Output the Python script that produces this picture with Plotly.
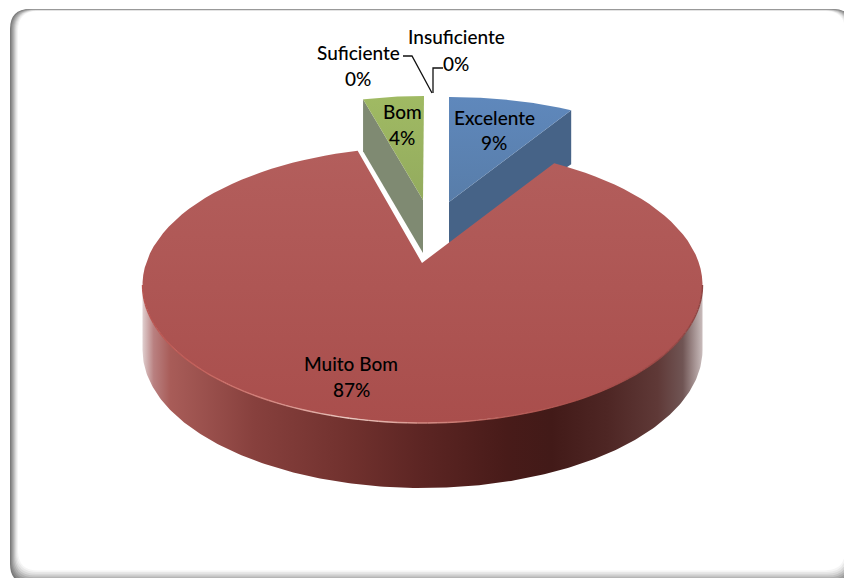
import numpy as np
import plotly.graph_objects as go

categories = ["Excelente", "Muito Bom", "Bom", "Suficiente", "Insuficiente"]
values = [9, 87, 4, 0, 0]
percent_labels = ["9%", "87%", "4%", "0%", "0%"]

# Projection of each exploded slice (perspective makes each ellipse differ)
GEOM = {
    "Excelente": dict(cx=449, cy=182, a=228, b=85, ax=449, ay=202, k=1.0, rot=0),
    "Muito Bom": dict(cx=422.5, cy=285, a=280, b=138, ax=422, ay=263, k=0.87, rot=0.9),
    "Bom": dict(cx=424, cy=201, a=245, b=105, ax=423, ay=200, k=1.0, rot=0),
}
DEPTH = {"Excelente": 46, "Muito Bom": 65, "Bom": 52}
# colours listed bottom to top because the y axis runs downwards
FACE = {
    "Excelente": ["#587da9", "#5f88bc"],
    "Muito Bom": ["#a94e4c", "#b35e5c"],
    "Bom": ["#93ab5e", "#a0ba63"],
}
WALL = {"Excelente": "#466387", "Bom": "#7f8a72"}
LABEL_POS = {
    "Excelente": (494, 117, 142),
    "Muito Bom": (351, 363, 389),
    "Bom": (402, 111, 137),
    "Suficiente": (358, 52, 78),
    "Insuficiente": (456, 36, 63),
}


def warp(theta, k):
    return np.unwrap(np.arctan2(k * np.sin(theta), np.cos(theta)))


def rim(g, t, dy=0.0):
    return g["cx"] + g["a"] * np.sin(t), g["cy"] + dy - g["b"] * np.cos(t)


fractions = np.array(values) / sum(values)
starts = np.concatenate([[0], np.cumsum(fractions)[:-1]]) * 2 * np.pi
ends = np.cumsum(fractions) * 2 * np.pi

fig = go.Figure()


def poly(xs, ys, **kw):
    fig.add_trace(go.Scatter(x=xs, y=ys, mode="lines", fill="toself",
                             line=dict(width=0), hoverinfo="skip", showlegend=False, **kw))


idx = {c: i for i, c in enumerate(categories)}


def arc(c):
    g = GEOM[c]
    th = np.linspace(starts[idx[c]], ends[idx[c]], 120) - np.radians(g["rot"])
    return warp(th, g["k"]), g


# Excelente: cut face visible at the end of the slice
t, g = arc("Excelente")
xr, yr = rim(g, t)
d = DEPTH["Excelente"]
poly([g["ax"], xr[-1], xr[-1], g["ax"]],
     [g["ay"], yr[-1], yr[-1] + d + 8, g["ay"] + d], fillcolor=WALL["Excelente"])
poly(np.r_[g["ax"], xr], np.r_[g["ay"], yr],
     fillgradient=dict(type="vertical", colorscale=[[0, FACE["Excelente"][0]], [1, FACE["Excelente"][1]]]))

# Bom: cut face visible at the start of the slice
t, g = arc("Bom")
t = t - 2 * np.pi if t[0] > np.pi else t
xr, yr = rim(g, t)
d = DEPTH["Bom"]
poly([g["ax"], xr[0], xr[0], g["ax"]],
     [g["ay"], yr[0], yr[0] + d, g["ay"] + d + 1], fillcolor=WALL["Bom"])
poly(np.r_[g["ax"], xr], np.r_[g["ay"], yr],
     fillgradient=dict(type="vertical", colorscale=[[0, FACE["Bom"][0]], [1, FACE["Bom"][1]]]))

# Muito Bom: outer wall with horizontal shading, then top face
g = GEOM["Muito Bom"]
tw = np.linspace(np.pi / 2, 3 * np.pi / 2, 240)
xt, yt = rim(g, tw)
xb, yb = rim(g, tw, DEPTH["Muito Bom"])
wall_stops = [
    [0.0, "#e0d0d0"], [0.02, "#b98080"], [0.05, "#a85c58"], [0.2, "#87403d"],
    [0.38, "#6f302d"], [0.5, "#5c2523"], [0.65, "#481b19"], [0.73, "#421a18"],
    [0.83, "#4e2624"], [0.92, "#5f3937"], [0.965, "#705554"], [1.0, "#c9bcbc"],
]
poly(np.r_[xt, xb[::-1]], np.r_[yt, yb[::-1]],
     fillgradient=dict(type="horizontal", colorscale=wall_stops))

t, g = arc("Muito Bom")
xr, yr = rim(g, t)
poly(np.r_[g["ax"], xr], np.r_[g["ay"], yr],
     fillgradient=dict(type="vertical", colorscale=[[0, FACE["Muito Bom"][0]], [1, FACE["Muito Bom"][1]]]))

# Bevel highlight along the front edge
rim_x = [143, 200, 260, 310, 350, 420, 500, 600, 702]
rim_c = ["#b85450", "#c4625c", "#d2807a", "#e0a8a0", "#ecccc4", "#d8928a", "#b85e58", "#a84e4a", "#8e4442"]
tr = np.linspace(np.pi / 2, 3 * np.pi / 2, 90)
xh, yh = rim(g, tr)
rgb = np.array([[int(c[i:i + 2], 16) for i in (1, 3, 5)] for c in rim_c])
for i in range(len(tr) - 1):
    mx = (xh[i] + xh[i + 1]) / 2
    col = [np.interp(mx, rim_x, rgb[:, j]) for j in range(3)]
    fig.add_trace(go.Scatter(x=xh[i:i + 2], y=yh[i:i + 2], mode="lines", hoverinfo="skip", showlegend=False,
                             line=dict(width=1.4, color="rgb(%d,%d,%d)" % tuple(col))))

# Leader lines of the two zero slices
for lx, ly in [([403, 412, 432], [56, 56, 93]), ([443, 433, 433], [68, 68, 93])]:
    fig.add_trace(go.Scatter(x=lx, y=ly, mode="lines", hoverinfo="skip", showlegend=False,
                             line=dict(width=1.3, color="#111111")))

for c, pct in zip(categories, percent_labels):
    x, y1, y2 = LABEL_POS[c]
    for txt, y in ((c, y1), (pct, y2)):
        fig.add_annotation(x=x, y=y, text=txt, showarrow=False, xanchor="center", yanchor="middle",
                           font=dict(family="Lato", size=19, color="#000000", weight=500))


def round_rect(l, t_, r, b, rad):
    return (f"M {l + rad} {t_} L {r - rad} {t_} Q {r} {t_} {r} {t_ + rad} L {r} {b - rad} "
            f"Q {r} {b} {r - rad} {b} L {l + rad} {b} Q {l} {b} {l} {b - rad} "
            f"L {l} {t_ + rad} Q {l} {t_} {l + rad} {t_} Z")


frame_cols = ["#7a7a7a", "#8c8c8c", "#9e9e9e", "#b0b0b0", "#c4c4c4", "#d8d8d8", "#e8e8e8", "#f5f5f5", "#ffffff"]
shapes = []
for i, col in enumerate(frame_cols):
    shapes.append(dict(type="path", layer="below", fillcolor=col, line=dict(width=0),
                       path=round_rect(10 + i, 9 + 0.25 * i, 853 - i, 584 - 1.7 * i, 20)))

fig.update_layout(
    width=844, height=578, margin=dict(l=0, r=0, t=0, b=0),
    paper_bgcolor="white", plot_bgcolor="white", showlegend=False, shapes=shapes,
    xaxis=dict(range=[0, 844], visible=False, fixedrange=True),
    yaxis=dict(range=[578, 0], visible=False, fixedrange=True),
)
fig.write_html("out.html", config={"displayModeBar": False},
               post_script="document.body.style.margin='0';document.body.style.overflow='hidden';")
